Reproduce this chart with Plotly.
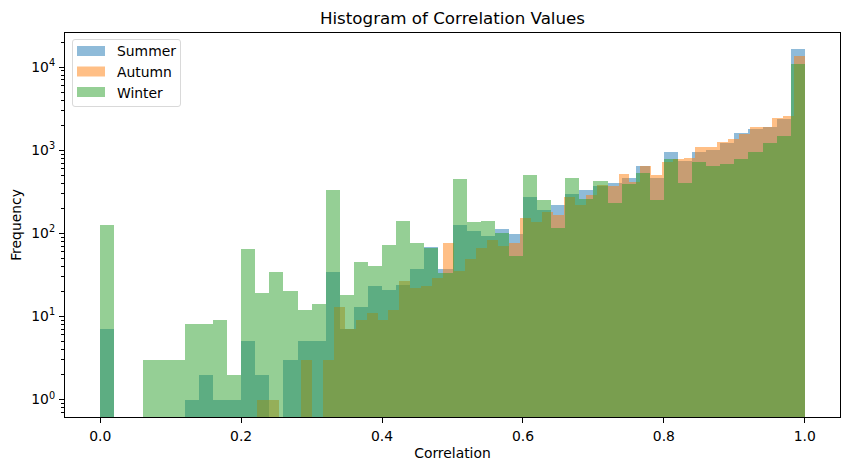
import plotly.graph_objects as go

# counts, None = empty bin
summer_counts = [7, None, None, None, None, None, 1, 2, 1, 1,
                 5, 2, None, 3, 5, 5, 34, 7, 13, 23,
                 21, 24, 37, 68, 37, 125, 106, 92, 112, 97,
                 272, 189, 217, 295, 330, 368, 400, 460, 640, 460,
                 946, 736, 946, 1000, 1214, 1600, 1790, 1890, 2360, 16480]
autumn_counts = [1, 1, None, None, 3, None, 3, 13, 7, 9,
                 11, 9, 12, 27, 22, 23, 29, 76, 35, 49,
                 66, 82, 70, 76, 152, 135, 179, 165, 272, 217,
                 287, 379, 368, 514, 411, 640, 500, 717, 778, 802,
                 1087, 1087, 1248, 1359, 1560, 1890, 1890, 2430, 2570, 13580]
winter_counts = [125, None, None, 3, 3, 3, 8, 8, 9, 2,
                 64, 19, 34, 20, 12, 14, 330, 18, 45, 40,
                 72, 140, 76, 66, 33, 447, 135, 140, 100, 54,
                 500, 250, 115, 460, 256, 424, 230, 389, 528, 250,
                 778, 400, 717, 640, 678, 780, 946, 1214, 1476, 10860]

bin_starts = {"Summer": 0.0, "Autumn": 0.2225, "Winter": 0.0}
season_counts = {"Summer": summer_counts, "Autumn": autumn_counts, "Winter": winter_counts}
colors = {"Summer": "#1f77b4", "Autumn": "#ff7f0e", "Winter": "#2ca02c"}

x_ticks = [0.0, 0.2, 0.4, 0.6, 0.8, 1.0]
y_ticks = [1, 10, 100, 1000, 10000]
y_tick_labels = ["10<sup>0</sup>", "10<sup>1</sup>", "10<sup>2</sup>", "10<sup>3</sup>", "10<sup>4</sup>"]

# page coordinates of the plot box, the browser puts the figure 8px in
PAGE = 8
W, H = 849 - 2 * PAGE, 470 - 2 * PAGE
LEFT, RIGHT, TOP, BOTTOM = 65, 840, 33, 417
FONT = "DejaVu Sans"
INK = "#000000"


def px(x):
    return (x - LEFT) / (RIGHT - LEFT)


def py(y):
    return (BOTTOM - y) / (BOTTOM - TOP)


fig = go.Figure()

for name, counts in season_counts.items():
    start = bin_starts[name]
    step = (1.0 - start) / len(counts)
    fig.add_trace(go.Bar(
        x=[start + i * step for i in range(len(counts))],
        y=counts,
        width=step,
        offset=0,
        name=name,
        marker=dict(color=colors[name], opacity=0.5, line=dict(width=0)),
        showlegend=False,
    ))

# matplotlib style legend, the plotly one can't draw wide patches
shapes = [dict(type="path", xref="paper", yref="paper", layer="above",
               path=f"M {px(75)},{py(39.5)} L {px(178)},{py(39.5)} Q {px(180.5)},{py(39.5)} {px(180.5)},{py(42)} "
                    f"L {px(180.5)},{py(104)} Q {px(180.5)},{py(106.5)} {px(178)},{py(106.5)} L {px(75)},{py(106.5)} "
                    f"Q {px(72.5)},{py(106.5)} {px(72.5)},{py(104)} L {px(72.5)},{py(42)} Q {px(72.5)},{py(39.5)} {px(75)},{py(39.5)} Z",
               line=dict(color="#d9d9d9", width=1), fillcolor="rgba(255,255,255,0.8)")]
annotations = []
for row, name in enumerate(season_counts):
    y0 = 46 + row * 20.5
    shapes.append(dict(type="rect", xref="paper", yref="paper", layer="above",
                       x0=px(77), x1=px(105), y0=py(y0), y1=py(y0 + 10),
                       line=dict(width=0), fillcolor=colors[name], opacity=0.5))
    annotations.append(dict(text=name, xref="paper", yref="paper", x=px(115), y=py(51 + row * 21.2),
                            xanchor="left", yanchor="middle", showarrow=False,
                            font=dict(family=FONT, size=13.9, color=INK)))

fig.update_layout(
    width=W, height=H, autosize=False,
    barmode="overlay", bargap=0,
    paper_bgcolor="white", plot_bgcolor="white",
    margin=dict(l=LEFT - PAGE, r=W - (RIGHT - PAGE), t=TOP - PAGE, b=H - (BOTTOM - PAGE), autoexpand=False),
    font=dict(family=FONT, size=13.9, color=INK),
    title=dict(text="Histogram of Correlation Values", x=((LEFT + RIGHT) / 2 - PAGE) / W, xanchor="center",
               y=1 - (18 - PAGE) / H, yanchor="middle", font=dict(family=FONT, size=16.7, color=INK)),
    shapes=shapes,
    annotations=annotations,
    xaxis=dict(
        range=[-0.05, 1.05], tickvals=x_ticks, tickformat=".1f",
        title=dict(text="Correlation", font=dict(size=13.9), standoff=5),
        ticks="outside", ticklen=5, tickwidth=1.1, tickcolor=INK, ticklabelstandoff=1,
        showgrid=False, zeroline=False, showline=True, linecolor=INK, linewidth=1.1, mirror=True,
    ),
    yaxis=dict(
        type="log", range=[-0.21, 4.41], tickvals=y_ticks, ticktext=y_tick_labels,
        title=dict(text="Frequency", font=dict(size=13.9), standoff=6),
        ticks="outside", ticklen=5, tickwidth=1.1, tickcolor=INK, ticklabelstandoff=1,
        minor=dict(ticks="outside", ticklen=3, tickwidth=0.8, tickcolor=INK, dtick="D1", showgrid=False),
        showgrid=False, zeroline=False, showline=True, linecolor=INK, linewidth=1.1, mirror=True,
    ),
)

fig.write_html("out.html")
